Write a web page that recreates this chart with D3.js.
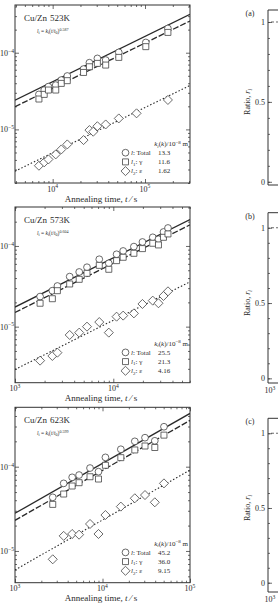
<!DOCTYPE html>
<html>
<head>
<meta charset="utf-8">
<script src="https://cdn.jsdelivr.net/npm/d3@7"></script>
<style>
body { margin: 0; background: #fff; }
svg { display: block; }
text { font-family: "Liberation Serif", "DejaVu Serif", serif; fill: #2a2a2a; }
.axis path { display: none; }
.axis line { stroke: #444; stroke-width: 0.8; }
</style>
</head>
<body>
<div id="chart"></div>
<script>
var width = 278, height = 605;

// panel titles and fit info
var panelTemps = ["523K", "573K", "623K"];
var fitExponents = ["0.587", "0.604", "0.599"];
var kTotal = ["13.3", "25.5", "45.2"];
var kGamma = ["11.6", "21.3", "36.0"];
var kEps = ["1.62", "4.16", "9.15"];

// fitted lines: value at t = 1e4 s (unit 1e-5 m) and slope
var fitTotal = [4.19, 7.12, 10.96];
var fitGamma = [3.44, 6.10, 9.05];
var fitEps = [0.496, 1.20, 2.33];
var fitSlope = [0.59, 0.61, 0.593];

// grain size data, unit 1e-5 m
var time523 = [7100, 8100, 9000, 10800, 12400, 14400, 21600, 25000, 27500, 30500, 37500, 52000, 81000, 102000, 177000];
var total523 = [2.86, 3.26, 3.61, 3.78, 4.40, 4.97, 6.12, 7.41, null, 8.43, 8.02, 10.1, null, 13.6, 20.7];
var gamma523 = [2.49, 2.86, 3.26, 3.26, 3.98, 4.32, 5.53, 6.56, null, 7.26, 6.90, 8.69, null, 12.0, 18.4];
var eps523 = [0.336, 0.372, 0.406, 0.472, 0.548, 0.637, 0.726, 0.98, 0.933, 1.10, 1.16, 1.39, 1.62, null, 2.42];

var time573 = [1800, 2400, 2700, 3600, 4500, 5400, 7200, 9000, 10800, 12600, 16200, 19800, 25200, 28800, 32400, 36000];
var total573 = [2.36, 2.79, 3.19, 4.17, 4.76, 5.45, 6.84, 6.10, 7.89, 8.67, 9.82, 11.2, 12.8, 12.1, 14.9, 16.7];
var gamma573 = [1.95, 2.22, 2.79, 3.38, 3.86, 4.58, 5.75, 5.14, 6.58, 7.24, 8.11, 9.27, 10.8, 10.3, 12.8, 14.1];
var eps573 = [0.379, 0.433, 0.476, 0.789, 0.843, 1.0, 1.14, 0.843, 1.33, 1.37, 1.46, 1.91, 2.10, 1.95, 2.40, 2.74];

var time623 = [2700, 3600, 4500, 5400, 7200, 9000, 10800, 16200, 23400, 30600, 39600, 50400];
var total623 = [4.33, 6.34, 7.48, 7.96, 9.64, 8.73, 12.9, 16.1, 20.0, 22.1, 20.3, 29.8];
var gamma623 = [3.57, 4.74, 5.90, 6.46, 7.60, 7.14, 10.4, 12.8, 15.8, 17.6, 16.9, 23.7];
var eps623 = [0.796, 1.51, 1.59, 1.56, 2.09, 1.59, 2.67, 3.36, 4.22, 4.61, 3.78, 6.34];

var times = [time523, time573, time623];
var totals = [total523, total573, total623];
var gammas = [gamma523, gamma573, gamma623];
var epss = [eps523, eps573, eps623];

// ratio panels (only left edge visible)
var ratioLabels = ["(a)", "(b)", "(c)"];
var ratioTicks = [0, 0.5, 1];

// layout
var boxes = [
  {top: 5, bottom: 183, xdom: [3910, 307000], ydom: [2.0e-6, 4.19e-4]},
  {top: 207, bottom: 382.7, xdom: [1000, 60300], ydom: [2.02e-6, 3.04e-4]},
  {top: 407.3, bottom: 582.7, xdom: [1000, 100000], ydom: [4.2e-6, 5.07e-4]}
];
var ratioBoxes = [
  {top: 10, bottom: 185, dom: [-0.02, 1.075]},
  {top: 212.7, bottom: 383, dom: [-0.031, 1.10]},
  {top: 418.3, bottom: 592, dom: [-0.062, 1.10]}
];
var left = 15, right = 190;

var svg = d3.select("#chart").append("svg")
  .attr("width", width)
  .attr("height", height);

function logTicks(dom) {
  var out = [];
  var lo = Math.floor(Math.log10(dom[0])), hi = Math.ceil(Math.log10(dom[1]));
  for (var e = lo; e <= hi; e++) {
    for (var m = 1; m < 10; m++) {
      var v = m * Math.pow(10, e);
      if (v >= dom[0] * 0.999 && v <= dom[1] * 1.001) out.push(v);
    }
  }
  return out;
}
function isMajor(v) {
  var l = Math.log10(v);
  return Math.abs(l - Math.round(l)) < 1e-6;
}

function pow10Label(sel, x, y, v, anchor, size) {
  var t = sel.append("text").attr("x", x).attr("y", y)
    .attr("text-anchor", anchor).style("font-size", size + "px");
  t.append("tspan").text("10");
  var e = Math.round(Math.log10(v));
  t.append("tspan").attr("dy", -size * 0.4).style("font-size", (size * 0.7) + "px")
    .text(e < 0 ? "\u2212" + (-e) : "" + e);
}

boxes.forEach(function(b, i) {
  var g = svg.append("g");
  var x = d3.scaleLog().domain(b.xdom).range([left, right]);
  var y = d3.scaleLog().domain(b.ydom).range([b.bottom, b.top]);
  var xt = logTicks(b.xdom), yt = logTicks(b.ydom);
  var xMaj = xt.filter(isMajor), xMin = xt.filter(function(v) { return !isMajor(v); });
  var yMaj = yt.filter(isMajor), yMin = yt.filter(function(v) { return !isMajor(v); });

  // inward ticks on all four sides
  [[d3.axisBottom, b.bottom], [d3.axisTop, b.top]].forEach(function(a) {
    g.append("g").attr("class", "axis").attr("transform", "translate(0," + a[1] + ")")
      .call(a[0](x).tickValues(xMaj).tickSize(-4).tickFormat(""));
    g.append("g").attr("class", "axis").attr("transform", "translate(0," + a[1] + ")")
      .call(a[0](x).tickValues(xMin).tickSize(-2).tickFormat(""));
  });
  [[d3.axisLeft, left], [d3.axisRight, right]].forEach(function(a) {
    g.append("g").attr("class", "axis").attr("transform", "translate(" + a[1] + ",0)")
      .call(a[0](y).tickValues(yMaj).tickSize(-4).tickFormat(""));
    g.append("g").attr("class", "axis").attr("transform", "translate(" + a[1] + ",0)")
      .call(a[0](y).tickValues(yMin).tickSize(-2).tickFormat(""));
  });

  g.append("rect").attr("x", left).attr("y", b.top)
    .attr("width", right - left).attr("height", b.bottom - b.top)
    .attr("fill", "none").attr("stroke", "#333").attr("stroke-width", 1);

  xMaj.forEach(function(v) { pow10Label(g, x(v), b.bottom + 8.5, v, "middle", 8); });
  yMaj.forEach(function(v) { pow10Label(g, left - 1, y(v) + 3, v, "end", 8); });

  var axisLabel = g.append("text").attr("x", 101).attr("y", b.bottom + 18.5)
    .attr("text-anchor", "middle").style("font-size", "9px");
  axisLabel.append("tspan").text("Annealing time, ");
  axisLabel.append("tspan").style("font-style", "italic").text("t");
  axisLabel.append("tspan").text(" \u2215 s");

  // fitted lines
  var clipId = "clip" + i;
  g.append("clipPath").attr("id", clipId).append("rect")
    .attr("x", left).attr("y", b.top).attr("width", right - left).attr("height", b.bottom - b.top);
  var lineGen = d3.line().x(function(d) { return x(d[0]); }).y(function(d) { return y(d[1]); });
  var fits = [[fitTotal[i], null, 1.3], [fitGamma[i], "6,2", 1.3], [fitEps[i], "1.5,2", 1.1]];
  fits.forEach(function(f) {
    var pts = b.xdom.map(function(t) { return [t, f[0] * 1e-5 * Math.pow(t / 1e4, fitSlope[i])]; });
    g.append("path").attr("d", lineGen(pts)).attr("clip-path", "url(#" + clipId + ")")
      .attr("fill", "none").attr("stroke", "#2a2a2a").attr("stroke-width", f[2])
      .attr("stroke-dasharray", f[1]);
  });

  // markers
  var mk = g.append("g").attr("fill", "#fff").attr("stroke", "#444").attr("stroke-width", 0.8);
  var sym = [d3.symbolCircle, d3.symbolSquare, d3.symbolDiamond2];
  var sizes = [36, 36, 52];
  [totals[i], gammas[i], epss[i]].forEach(function(series, s) {
    var gen = d3.symbol().type(sym[s]).size(sizes[s]);
    series.forEach(function(v, j) {
      if (v == null) return;
      mk.append("path").attr("d", gen())
        .attr("transform", "translate(" + x(times[i][j]) + "," + y(v * 1e-5) + ")");
    });
  });

  // title and formula
  g.append("text").attr("x", 24).attr("y", b.top + 16).style("font-size", "9px").text("Cu/Zn");
  g.append("text").attr("x", 50).attr("y", b.top + 16).style("font-size", "9px").text(panelTemps[i]);
  var fm = g.append("text").attr("x", 37).attr("y", b.top + 28).style("font-size", "5.5px");
  fm.append("tspan").style("font-style", "italic").text("l");
  fm.append("tspan").attr("dy", 1).style("font-size", "4px").text("i");
  fm.append("tspan").attr("dy", -1).text(" = ");
  fm.append("tspan").style("font-style", "italic").text("k");
  fm.append("tspan").attr("dy", 1).style("font-size", "4px").text("i");
  fm.append("tspan").attr("dy", -1).text("(");
  fm.append("tspan").style("font-style", "italic").text("t");
  fm.append("tspan").text("/");
  fm.append("tspan").style("font-style", "italic").text("t");
  fm.append("tspan").attr("dy", 1).style("font-size", "4px").text("0");
  fm.append("tspan").attr("dy", -1).text(")");
  fm.append("tspan").attr("dy", -2.5).style("font-size", "4px").text(fitExponents[i]);

  // legend
  var ly = b.bottom - 37;
  var hd = g.append("text").attr("x", 188).attr("y", ly).attr("text-anchor", "end").style("font-size", "7px");
  hd.append("tspan").style("font-style", "italic").text("k");
  hd.append("tspan").attr("dy", 1.5).style("font-size", "5px").style("font-style", "italic").text("i");
  hd.append("tspan").attr("dy", -1.5).text("(");
  hd.append("tspan").style("font-style", "italic").text("k");
  hd.append("tspan").text(")/10");
  hd.append("tspan").attr("dy", -2.5).style("font-size", "5px").text("\u22128");
  hd.append("tspan").attr("dy", 2.5).text(" m");

  var rows = [["l", "", ": Total", kTotal[i]], ["l", "1", ": \u03b3", kGamma[i]], ["l", "2", ": \u03b5", kEps[i]]];
  rows.forEach(function(r, k) {
    var ry = ly + 9 + k * 9.2;
    var gen = d3.symbol().type(sym[k]).size(sizes[k]);
    mk.append("path").attr("d", gen())
      .attr("transform", "translate(125.5," + (ry - 2.3) + ")");
    var t = g.append("text").attr("x", 131).attr("y", ry).style("font-size", "7px");
    t.append("tspan").style("font-style", "italic").text(r[0]);
    if (r[1]) t.append("tspan").attr("dy", 1.5).style("font-size", "5px").text(r[1]);
    t.append("tspan").attr("dy", r[1] ? -1.5 : 0).text(r[2]);
    g.append("text").attr("x", 158).attr("y", ry).style("font-size", "7px").text(r[3]);
  });
});

// right-hand ratio panels, cut off by the page edge
ratioBoxes.forEach(function(b, i) {
  var g = svg.append("g");
  var rx = 268;
  var y = d3.scaleLinear().domain(b.dom).range([b.bottom, b.top]);
  g.append("g").attr("class", "axis").attr("transform", "translate(" + rx + ",0)")
    .call(d3.axisLeft(y).tickValues(d3.range(0, 1.01, 0.1)).tickSize(-2).tickFormat(""));
  g.append("g").attr("class", "axis").attr("transform", "translate(" + rx + ",0)")
    .call(d3.axisLeft(y).tickValues(ratioTicks).tickSize(-4).tickFormat(""));
  g.append("path")
    .attr("d", "M" + width + "," + b.top + "H" + rx + "V" + b.bottom + "H" + width)
    .attr("fill", "none").attr("stroke", "#333").attr("stroke-width", 1);
  ratioTicks.forEach(function(v) {
    g.append("text").attr("x", rx - 3).attr("y", y(v) + 3).attr("text-anchor", "end")
      .style("font-size", "8px").text(v);
  });
  g.append("line").attr("x1", rx + 3).attr("x2", width).attr("y1", y(1)).attr("y2", y(1))
    .attr("stroke", "#444").attr("stroke-width", 0.8).attr("stroke-dasharray", "3,2");
  g.append("text").attr("x", 250).attr("y", b.top + 6).attr("text-anchor", "middle")
    .style("font-size", "8px").text(ratioLabels[i]);
  var mid = (y(0) + y(1)) / 2;
  var rl = g.append("text").attr("transform", "translate(250," + mid + ") rotate(-90)")
    .attr("text-anchor", "middle").style("font-size", "8px");
  rl.append("tspan").text("Ratio, ");
  rl.append("tspan").style("font-style", "italic").text("r");
  rl.append("tspan").attr("dy", 1.5).style("font-size", "6px").style("font-style", "italic").text("i");
  if (i > 0) {
    pow10Label(g, rx + 2, b.bottom + 10, 1000, "middle", 8);
  }
});
</script>
</body>
</html>
